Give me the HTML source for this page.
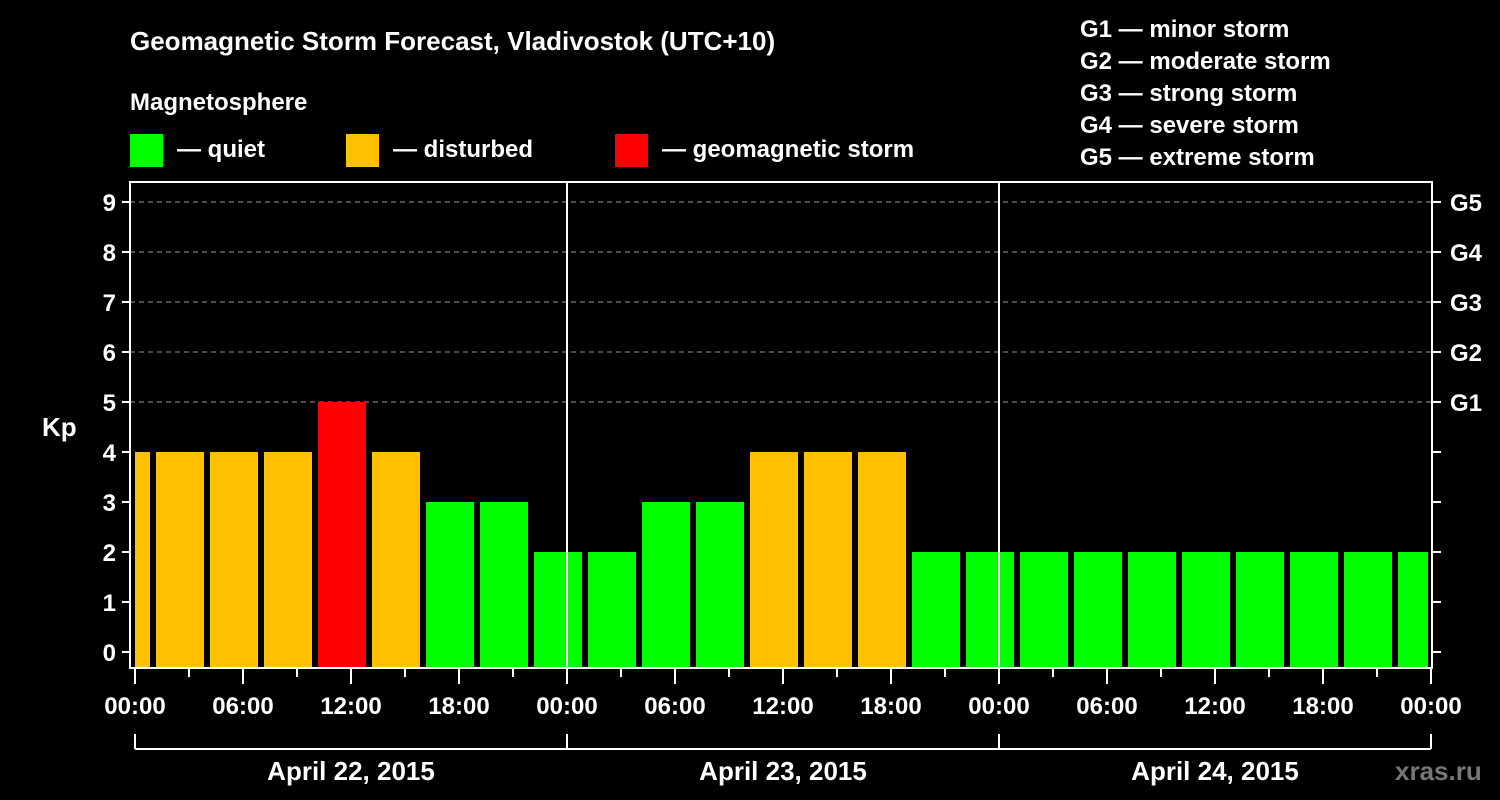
<!DOCTYPE html>
<html><head><meta charset="utf-8"><style>
body{margin:0;background:#000;width:1500px;height:800px;overflow:hidden}
svg{display:block;font-family:"Liberation Sans",sans-serif;font-weight:bold}
</style></head><body>
<svg id="c" width="1500" height="800" viewBox="0 0 1500 800">
<text x="130" y="50" fill="#fff" font-size="26">Geomagnetic Storm Forecast, Vladivostok (UTC+10)</text>
<text x="130" y="110" fill="#fff" font-size="24">Magnetosphere</text>
<g><rect x="130" y="134" width="33" height="33" fill="#00ff00"/><text x="177" y="157" fill="#fff" font-size="24">— quiet</text></g>
<g><rect x="346" y="134" width="33" height="33" fill="#ffc000"/><text x="393" y="157" fill="#fff" font-size="24">— disturbed</text></g>
<g><rect x="615" y="134" width="33" height="33" fill="#ff0000"/><text x="662" y="157" fill="#fff" font-size="24">— geomagnetic storm</text></g>
<g fill="#fff" font-size="24">
<text x="1080" y="37">G1 — minor storm</text><text x="1080" y="69">G2 — moderate storm</text><text x="1080" y="101">G3 — strong storm</text><text x="1080" y="133">G4 — severe storm</text><text x="1080" y="165">G5 — extreme storm</text>
</g>
<text x="42" y="436" fill="#fff" font-size="26">Kp</text>
<text x="1395" y="780" fill="#777" font-size="26">xras.ru</text>
<g id="grid"></g><g id="bars"></g><g id="axes"></g>
</svg>
<script>
const kpValues=[4,4,4,4,5,4,3,3,2,2,3,3,4,4,4,2,2,2,2,2,2,2,2,2,2];
const slotCenterHours=[-0.5,2.5,5.5,8.5,11.5,14.5,17.5,20.5,23.5,26.5,29.5,32.5,35.5,38.5,41.5,44.5,47.5,50.5,53.5,56.5,59.5,62.5,65.5,68.5,71.5];
const kpTicks=[0,1,2,3,4,5,6,7,8,9];
const gLabels=["","","","","","G1","G2","G3","G4","G5"];
const timeLabels=["00:00","06:00","12:00","18:00","00:00","06:00","12:00","18:00","00:00","06:00","12:00","18:00","00:00"];
const dateLabels=["April 22, 2015","April 23, 2015","April 24, 2015"];
const NS="http://www.w3.org/2000/svg";
const X=h=>135+h*18, Y=v=>652-v*50;
const L=130,R=1432,T=182,B=668;
function mk(t,a,p){const e=document.createElementNS(NS,t);for(const k in a)e.setAttribute(k,a[k]);p.appendChild(e);return e;}
const grid=document.getElementById('grid'),bars=document.getElementById('bars'),axes=document.getElementById('axes');
kpTicks.forEach((v,i)=>{
 if(v>=5){const g=mk('line',{x1:L,x2:R,y1:Y(v),y2:Y(v),stroke:'#999','stroke-dasharray':'5,4'},grid);
 
 }
 mk('line',{x1:L-8,x2:L,y1:Y(v),y2:Y(v),stroke:'#fff','stroke-width':2},axes);
 mk('line',{x1:R,x2:R+9,y1:Y(v),y2:Y(v),stroke:'#fff','stroke-width':2},axes);
 const t=mk('text',{x:L-14,y:Y(v)+9,'text-anchor':'end',fill:'#fff','font-size':24},axes);t.textContent=v;
 
 
 if(gLabels[i]){const g=mk('text',{x:1450,y:Y(v)+9,fill:'#fff','font-size':24},axes);g.textContent=gLabels[i];
 
 }
});
kpValues.forEach((v,i)=>{
 const c=slotCenterHours[i];let x0=Math.max(X(c-1.5)+3,X(0)),x1=Math.min(X(c+1.5)-3,R-4);
 const col=v>=5?'#ff0000':v>=4?'#ffc000':'#00ff00';
 const r=mk('rect',{x:x0,y:Y(v),width:x1-x0,height:B-Y(v),fill:col},bars);
 
 
});
[24,48].forEach(h=>mk('line',{x1:X(h),x2:X(h),y1:T,y2:B,stroke:'#fff','stroke-width':2},axes));
const fr=mk('rect',{x:L,y:T,width:R-L,height:B-T,fill:'none',stroke:'#fff','stroke-width':2},axes);


for(let h=0;h<=72;h+=3){mk('line',{x1:X(h),x2:X(h),y1:B,y2:B+(h%6==0?16:9),stroke:'#fff','stroke-width':2},axes);}
timeLabels.forEach((s,i)=>{const t=mk('text',{x:X(i*6),y:714,'text-anchor':'middle',fill:'#fff','font-size':24},axes);t.textContent=s;
 
 });
mk('line',{x1:X(0),x2:X(72),y1:749,y2:749,stroke:'#fff','stroke-width':2},axes);
[0,24,48,72].forEach(h=>mk('line',{x1:X(h),x2:X(h),y1:734,y2:749,stroke:'#fff','stroke-width':2},axes));
dateLabels.forEach((s,i)=>{const t=mk('text',{x:X(i*24+12),y:780,'text-anchor':'middle',fill:'#fff','font-size':26},axes);t.textContent=s;
 
 });
</script>
</body></html>
